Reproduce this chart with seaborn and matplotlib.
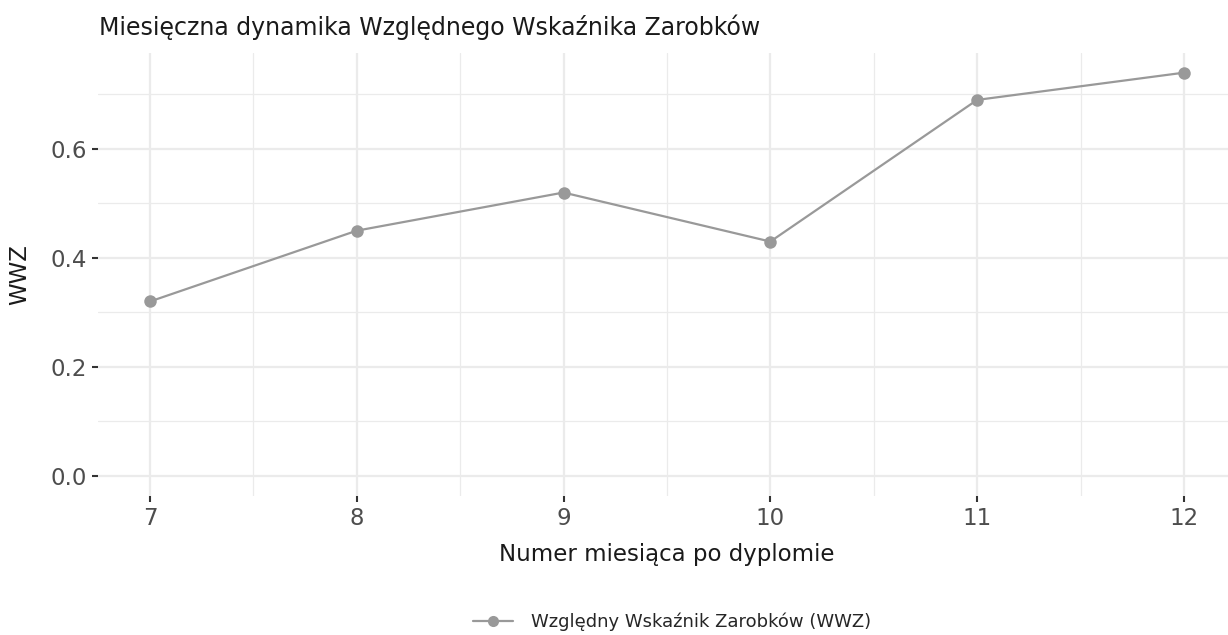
import matplotlib
matplotlib.use("Agg")
import matplotlib.pyplot as plt
import seaborn as sns
import pandas as pd

# data
months = [7, 8, 9, 10, 11, 12]
wwz = [0.32, 0.45, 0.52, 0.43, 0.69, 0.74]
series_name = "Względny Wskaźnik Zarobków (WWZ)"

df = pd.DataFrame({"Miesiąc": months, "WWZ": wwz, "Seria": series_name})

sns.set_theme(style="white")
plt.rcParams['font.family'] = ['DejaVu Sans']

fig = plt.figure(figsize=(12.28, 6.35), dpi=100)
# panel runs a bit past the right edge, as in the reference
ax = fig.add_axes([0.080, 0.2189, 0.9262, 0.6984])

sns.lineplot(data=df, x="Miesiąc", y="WWZ", hue="Seria", palette=["#999999"],
             marker="o", markersize=9, markeredgewidth=0, linewidth=1.6,
             ax=ax, legend=False)

ax.set_xlim(6.75, 12.25)
ax.set_ylim(-0.037, 0.777)
ax.set_xticks(months)
ax.set_yticks([0.0, 0.2, 0.4, 0.6])
ax.set_yticklabels(["0.0", "0.2", "0.4", "0.6"])
ax.set_xticks([7.5, 8.5, 9.5, 10.5, 11.5], minor=True)
ax.set_yticks([0.1, 0.3, 0.5, 0.7], minor=True)

ax.grid(which="major", color="#ebebeb", linewidth=1.6)
ax.grid(which="minor", color="#ebebeb", linewidth=0.9)
ax.set_axisbelow(True)
for s in ax.spines.values():
    s.set_visible(False)

ax.tick_params(which="major", bottom=True, left=True, length=4, width=1.5,
               color="#333333", labelcolor="#4d4d4d", labelsize=16.5, pad=4)
ax.tick_params(which="minor", length=0)
ax.tick_params(axis="x", pad=4)

ax.set_xlabel("Numer miesiąca po dyplomie", fontsize=16.5, color="#1a1a1a", labelpad=9)
ax.set_ylabel("WWZ", fontsize=16.5, color="#1a1a1a", labelpad=14)
fig.text(99 / 1228, 1 - 27 / 635, "Miesięczna dynamika Względnego Wskaźnika Zarobków",
         fontsize=17, color="#1a1a1a", ha="left", va="center")

handle = plt.Line2D([], [], color="#999999", marker="o", markersize=8,
                    markeredgewidth=0, linewidth=1.6)
fig.legend([handle], [series_name], loc="center",
           bbox_to_anchor=(672 / 1228, 1 - 622 / 635), frameon=False,
           fontsize=13, handlelength=2.2, handletextpad=1.0)

fig.savefig("out.png", dpi=100)
